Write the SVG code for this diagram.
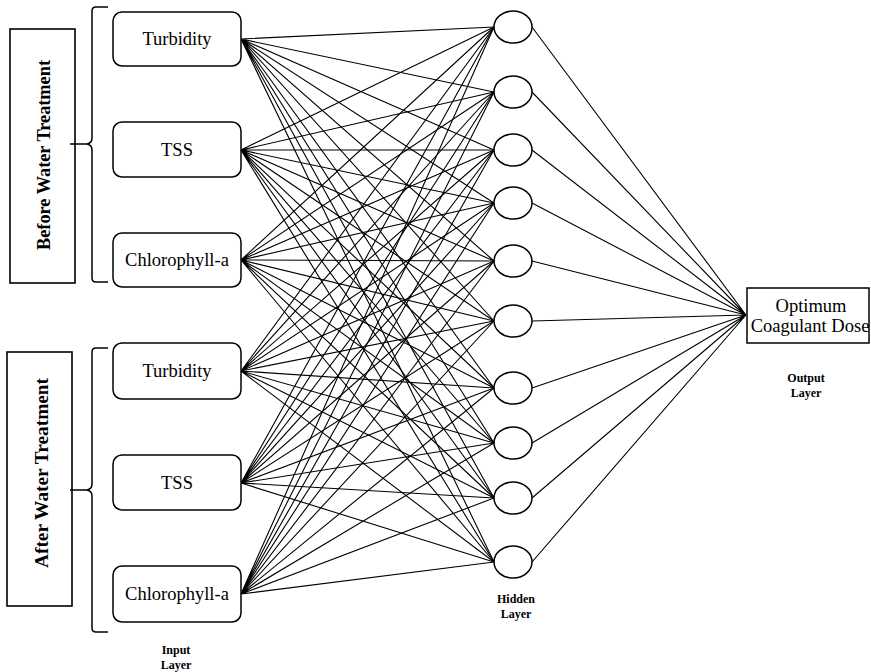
<svg xmlns="http://www.w3.org/2000/svg" width="871" height="672" viewBox="0 0 871 672">
<style>
.box{fill:#fff;stroke:#000;stroke-width:1.5}
.grp{fill:#fff;stroke:#000;stroke-width:1.6}
.br{fill:none;stroke:#000;stroke-width:1.5}
.node{fill:#fff;stroke:#000;stroke-width:1.5}
.cn{fill:none;stroke:#000;stroke-width:1.1}
.t{font-family:"Liberation Serif","Times New Roman",serif;font-size:18.5px;fill:#000;text-anchor:middle}
.v{font-family:"Liberation Serif","Times New Roman",serif;font-size:18.5px;font-weight:bold;fill:#000;text-anchor:middle}
.l{font-family:"Liberation Serif","Times New Roman",serif;font-size:12px;font-weight:bold;fill:#000;text-anchor:middle}
</style>
<rect width="871" height="672" fill="#fff"/>
<g id="connectors">
<path class="cn" d="M241 39L494 27M241 39L494 92M241 39L494 150M241 39L494 203M241 39L494 261M241 39L494 321M241 39L494 388M241 39L494 443M241 39L494 498M241 39L494 562"/>
<path class="cn" d="M241 150L494 27M241 150L494 92M241 150L494 150M241 150L494 203M241 150L494 261M241 150L494 321M241 150L494 388M241 150L494 443M241 150L494 498M241 150L494 562"/>
<path class="cn" d="M241 260L494 27M241 260L494 92M241 260L494 150M241 260L494 203M241 260L494 261M241 260L494 321M241 260L494 388M241 260L494 443M241 260L494 498M241 260L494 562"/>
<path class="cn" d="M241 371L494 27M241 371L494 92M241 371L494 150M241 371L494 203M241 371L494 261M241 371L494 321M241 371L494 388M241 371L494 443M241 371L494 498M241 371L494 562"/>
<path class="cn" d="M241 483L494 27M241 483L494 92M241 483L494 150M241 483L494 203M241 483L494 261M241 483L494 321M241 483L494 388M241 483L494 443M241 483L494 498M241 483L494 562"/>
<path class="cn" d="M241 594L494 27M241 594L494 92M241 594L494 150M241 594L494 203M241 594L494 261M241 594L494 321M241 594L494 388M241 594L494 443M241 594L494 498M241 594L494 562"/>
<path class="cn" d="M532 27L746 315M532 92L746 315M532 150L746 315M532 203L746 315M532 261L746 315M532 321L746 315M532 388L746 315M532 443L746 315M532 498L746 315M532 562L746 315"/>
</g>
<g id="before-group">
<rect class="grp" x="10" y="29" width="65" height="254"/>
<text class="v" transform="translate(50,155) rotate(-90)" textLength="190" lengthAdjust="spacingAndGlyphs">Before Water Treatment</text>
<path class="br" d="M108 7H96Q92 7 92 11V138Q92 143 87 144Q92 145 92 150V278Q92 282 96 282H108M70 144H87"/>
</g>
<g id="after-group">
<rect class="grp" x="7" y="352" width="65" height="254"/>
<text class="v" transform="translate(48,473) rotate(-90)" textLength="190" lengthAdjust="spacingAndGlyphs">After Water Treatment</text>
<path class="br" d="M108 348H96Q92 348 92 352V484Q92 489 87 490Q92 491 92 496V628Q92 632 96 632H108M70 490H87"/>
</g>
<g id="in1"><rect class="box" x="113" y="12" width="128" height="54" rx="9"/><text class="t" x="177" y="45">Turbidity</text></g>
<g id="in2"><rect class="box" x="113" y="122" width="128" height="55" rx="9"/><text class="t" x="177" y="156">TSS</text></g>
<g id="in3"><rect class="box" x="113" y="233" width="128" height="54" rx="9"/><text class="t" x="177" y="266">Chlorophyll-a</text></g>
<g id="in4"><rect class="box" x="113" y="343" width="128" height="56" rx="9"/><text class="t" x="177" y="377">Turbidity</text></g>
<g id="in5"><rect class="box" x="113" y="455" width="128" height="55" rx="9"/><text class="t" x="177" y="489">TSS</text></g>
<g id="in6"><rect class="box" x="113" y="566" width="128" height="56" rx="9"/><text class="t" x="177" y="600">Chlorophyll-a</text></g>
<g id="h1"><ellipse class="node" cx="513" cy="27" rx="19" ry="16"/></g>
<g id="h2"><ellipse class="node" cx="513" cy="92" rx="19" ry="16"/></g>
<g id="h3"><ellipse class="node" cx="513" cy="150" rx="19" ry="16"/></g>
<g id="h4"><ellipse class="node" cx="513" cy="203" rx="19" ry="16"/></g>
<g id="h5"><ellipse class="node" cx="513" cy="261" rx="19" ry="16"/></g>
<g id="h6"><ellipse class="node" cx="513" cy="321" rx="19" ry="16"/></g>
<g id="h7"><ellipse class="node" cx="513" cy="388" rx="19" ry="16"/></g>
<g id="h8"><ellipse class="node" cx="513" cy="443" rx="19" ry="16"/></g>
<g id="h9"><ellipse class="node" cx="513" cy="498" rx="19" ry="16"/></g>
<g id="h10"><ellipse class="node" cx="513" cy="562" rx="19" ry="16"/></g>
<g id="output"><rect class="box" x="747" y="288" width="122" height="55"/><text class="t" x="811" y="312">Optimum</text><text class="t" x="810" y="332">Coagulant Dose</text></g>
<g id="labels">
<text class="l" x="806" y="382">Output</text><text class="l" x="806" y="397">Layer</text>
<text class="l" x="516" y="603">Hidden</text><text class="l" x="516" y="618">Layer</text>
<text class="l" x="176" y="654">Input</text><text class="l" x="176" y="669">Layer</text>
</g>
</svg>
